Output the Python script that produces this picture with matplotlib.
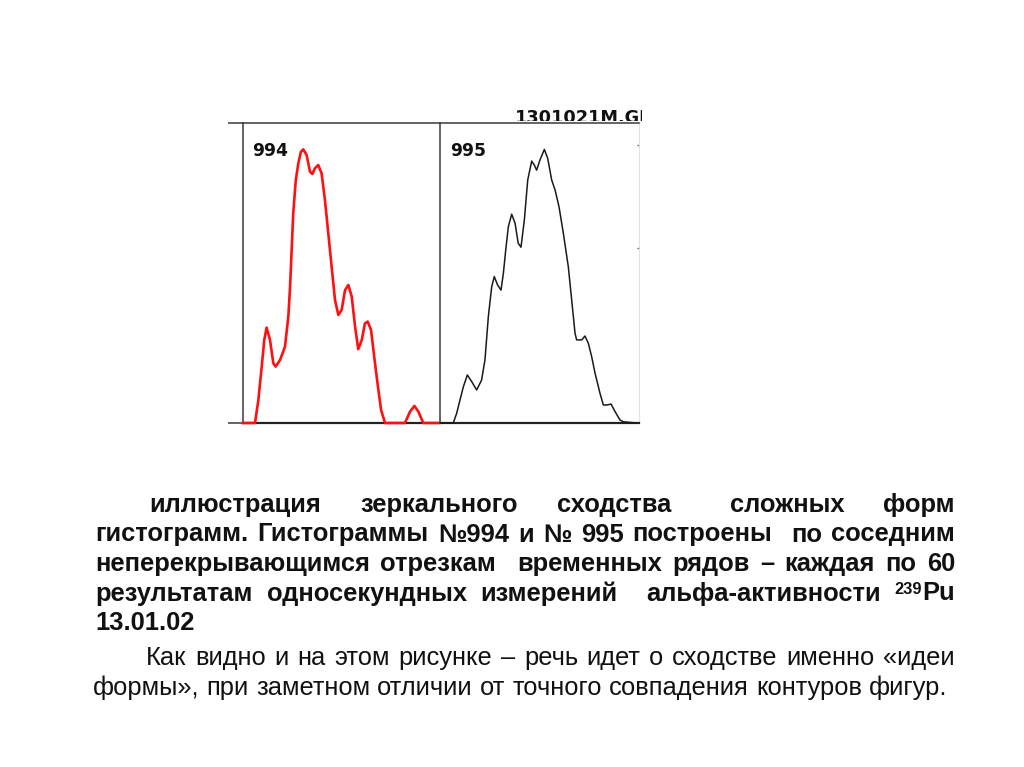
import matplotlib
matplotlib.use('Agg')
import matplotlib.pyplot as plt
from matplotlib.transforms import Bbox

W, H = 1024, 767

# histogram 994 (red): channel (0-100 across the panel) vs height (0-100 of the panel)
red_x = [0, 6.1, 7.8, 9.5, 10.8, 12.0, 13.7, 15.4, 16.6, 18.8,
         21.3, 23.0, 23.9, 24.7, 25.5, 26.8, 28.1, 29.4, 30.6, 32.3,
         34.0, 35.2, 36.5, 38.2, 39.9, 41.6, 43.3, 45.0, 46.7, 48.4,
         50.1, 51.8, 53.5, 55.2, 56.9, 58.5, 60.3, 61.9, 63.3, 65.0,
         66.6, 68.3, 70.1, 72.1, 82.2, 84.8, 87.0, 89.0, 91.5, 99.1]
red_y = [0, 0, 7.7, 18.8, 27.7, 31.8, 27.7, 19.9, 18.8, 21.0,
         25.4, 35.4, 45.4, 57.7, 69.9, 81.0, 86.6, 90.4, 91.2, 89.3,
         83.8, 83.0, 84.9, 86.0, 83.2, 74.3, 63.2, 52.1, 41.0, 36.0,
         37.7, 44.3, 46.0, 42.1, 32.1, 24.6, 27.7, 33.2, 33.8, 31.0,
         22.1, 13.2, 4.3, 0, 0, 3.8, 5.7, 3.8, 0, 0]

# histogram 995 (black)
blk_x = [0, 6.2, 7.9, 9.6, 11.3, 13.3, 15.5, 18.0, 20.5, 22.2,
         23.9, 25.6, 26.9, 28.6, 30.3, 31.5, 32.7, 34.0, 35.7, 37.4,
         39.0, 40.4, 42.1, 43.8, 45.8, 47.1, 48.3, 50.0, 52.2, 53.9,
         55.9, 57.6, 59.6, 61.8, 64.3, 66.0, 67.7, 68.5, 71.1, 72.7,
         74.4, 76.1, 77.8, 80.3, 82.0, 83.7, 85.9, 87.9, 90.4, 92.1, 98.8]
blk_y = [0, 0, 3.2, 7.7, 12.1, 16.0, 13.8, 11.0, 14.3, 21.0,
         35.4, 45.4, 48.8, 46.0, 44.3, 49.9, 57.7, 65.4, 69.6, 66.6,
         59.9, 58.6, 67.7, 81.0, 87.3, 86.0, 84.3, 87.7, 91.2, 88.2,
         81.0, 77.7, 72.1, 63.2, 52.1, 41.0, 29.9, 27.7, 27.7, 29.0,
         26.6, 22.1, 16.6, 9.9, 6.0, 6.0, 6.3, 3.8, 1.0, 0.4, 0]

label_left = "994"
label_right = "995"
file_label = "1301021M.GM"

para1 = [
    "иллюстрация  зеркального  сходства   сложных  форм",
    "гистограмм. Гистограммы №994 и № 995 построены  по соседним",
    "неперекрывающимся отрезкам  временных рядов – каждая по 60",
    "результатам односекундных измерений  альфа-активности ^239Pu",
    "13.01.02",
]
para2 = [
    "Как видно и на этом рисунке – речь идет о сходстве именно «идеи",
    "формы», при заметном отличии от точного совпадения контуров фигур.",
]

FONT = ['Liberation Sans', 'DejaVu Sans']
FRAME = '#3a3a3a'


def px_rect(x0, y0, x1, y1):
    return [x0 / W, 1 - y1 / H, (x1 - x0) / W, (y1 - y0) / H]


fig = plt.figure(figsize=(W / 100, H / 100), dpi=100)
fig.patch.set_facecolor('white')

ax1 = fig.add_axes(px_rect(243, 123, 440, 423))
ax2 = fig.add_axes(px_rect(441, 123, 639, 423))

for ax in (ax1, ax2):
    ax.set_xlim(0, 100)
    ax.set_ylim(0, 100)
    ax.set_xticks([])
    ax.patch.set_alpha(0)
    for s in ('top', 'left', 'right'):
        ax.spines[s].set_color(FRAME)
        ax.spines[s].set_linewidth(1.1)
    ax.spines['bottom'].set_color('#222222')
    ax.spines['bottom'].set_linewidth(1.6)

# left panel: baseline and top line run a bit past the frame
ax1.set_yticks([0, 100])
ax1.set_yticklabels([])
ax1.tick_params(axis='y', direction='out', length=10.8, width=1.1, color=FRAME)
ax1.plot(red_x, red_y, color='#ff1010', lw=1.9, solid_joinstyle='round', zorder=3, clip_on=False)
ax1.text(0.044, 0.89, label_left, transform=ax1.transAxes, fontsize=12.3,
         fontweight='bold', family='DejaVu Sans', color='#111111', va='baseline')

# right panel: faint right edge with small ticks
ax2.spines['left'].set_visible(False)
ax2.spines['right'].set_color('#e2e2e2')
ax2.spines['right'].set_linewidth(0.8)
ax2.yaxis.tick_right()
ax2.set_yticks([58.3, 92.7])
ax2.set_yticklabels([])
ax2.tick_params(axis='y', direction='in', length=1.5, width=1.0, color='#666666')
ax2.plot(blk_x, blk_y, color='#1a1a1a', lw=1.1, solid_joinstyle='round', zorder=3, clip_on=False)
ax2.text(0.045, 0.89, label_right, transform=ax2.transAxes, fontsize=12.3,
         fontweight='bold', family='DejaVu Sans', color='#111111', va='baseline')

ft = ax2.text(0.374, 1.0, file_label, transform=ax2.transAxes, fontsize=12.8,
              fontweight='bold', family='DejaVu Sans', color='#111111', va='baseline')
ft.set_clip_box(Bbox.from_extents(441, H - 123 + 2, 642, H - 100))
ft.set_clip_on(True)

# caption text, justified by hand
renderer = fig.canvas.get_renderer()


def word_parts(word, size, weight):
    if word.startswith('^'):
        return [(word[1:4], size * 0.64, weight, 7), (word[4:], size, weight, 0)]
    return [(word, size, weight, 0)]


def measure(parts):
    w = 0
    for txt, size, weight, dy in parts:
        t = fig.text(0, 0, txt, fontsize=size, fontweight=weight, family=FONT)
        w += t.get_window_extent(renderer).width
        t.remove()
    return w


def draw_line(line, x0, x1, ybase, size, weight, justify):
    words = line.split(' ')
    parts = [word_parts(w, size, weight) for w in words]
    widths = [measure(p) for p in parts]
    space = measure([(' a', size, weight, 0)]) - measure([('a', size, weight, 0)])
    gaps = len(words) - 1
    if justify and gaps > 0:
        space = (x1 - x0 - sum(widths)) / gaps
    x = x0
    for p, w in zip(parts, widths):
        xx = x
        for txt, sz, wt, dy in p:
            if txt:
                t = fig.text(xx / W, 1 - (ybase - dy) / H, txt, fontsize=sz, fontweight=wt,
                             family=FONT, color='#111111', va='baseline', ha='left')
                xx += t.get_window_extent(renderer).width
        x += w + space


SIZE = 18.4
base1 = [512, 541.5, 571, 600.5, 630]
for i, line in enumerate(para1):
    x0 = 149 if i == 0 else 95
    draw_line(line, x0, 955, base1[i], SIZE, 'bold', i < len(para1) - 1)

base2 = [665, 695]
for i, line in enumerate(para2):
    x0 = 146 if i == 0 else 93
    draw_line(line, x0, 955, base2[i], SIZE, 'normal', i < len(para2) - 1)

fig.savefig('out.png', dpi=100, facecolor='white')
